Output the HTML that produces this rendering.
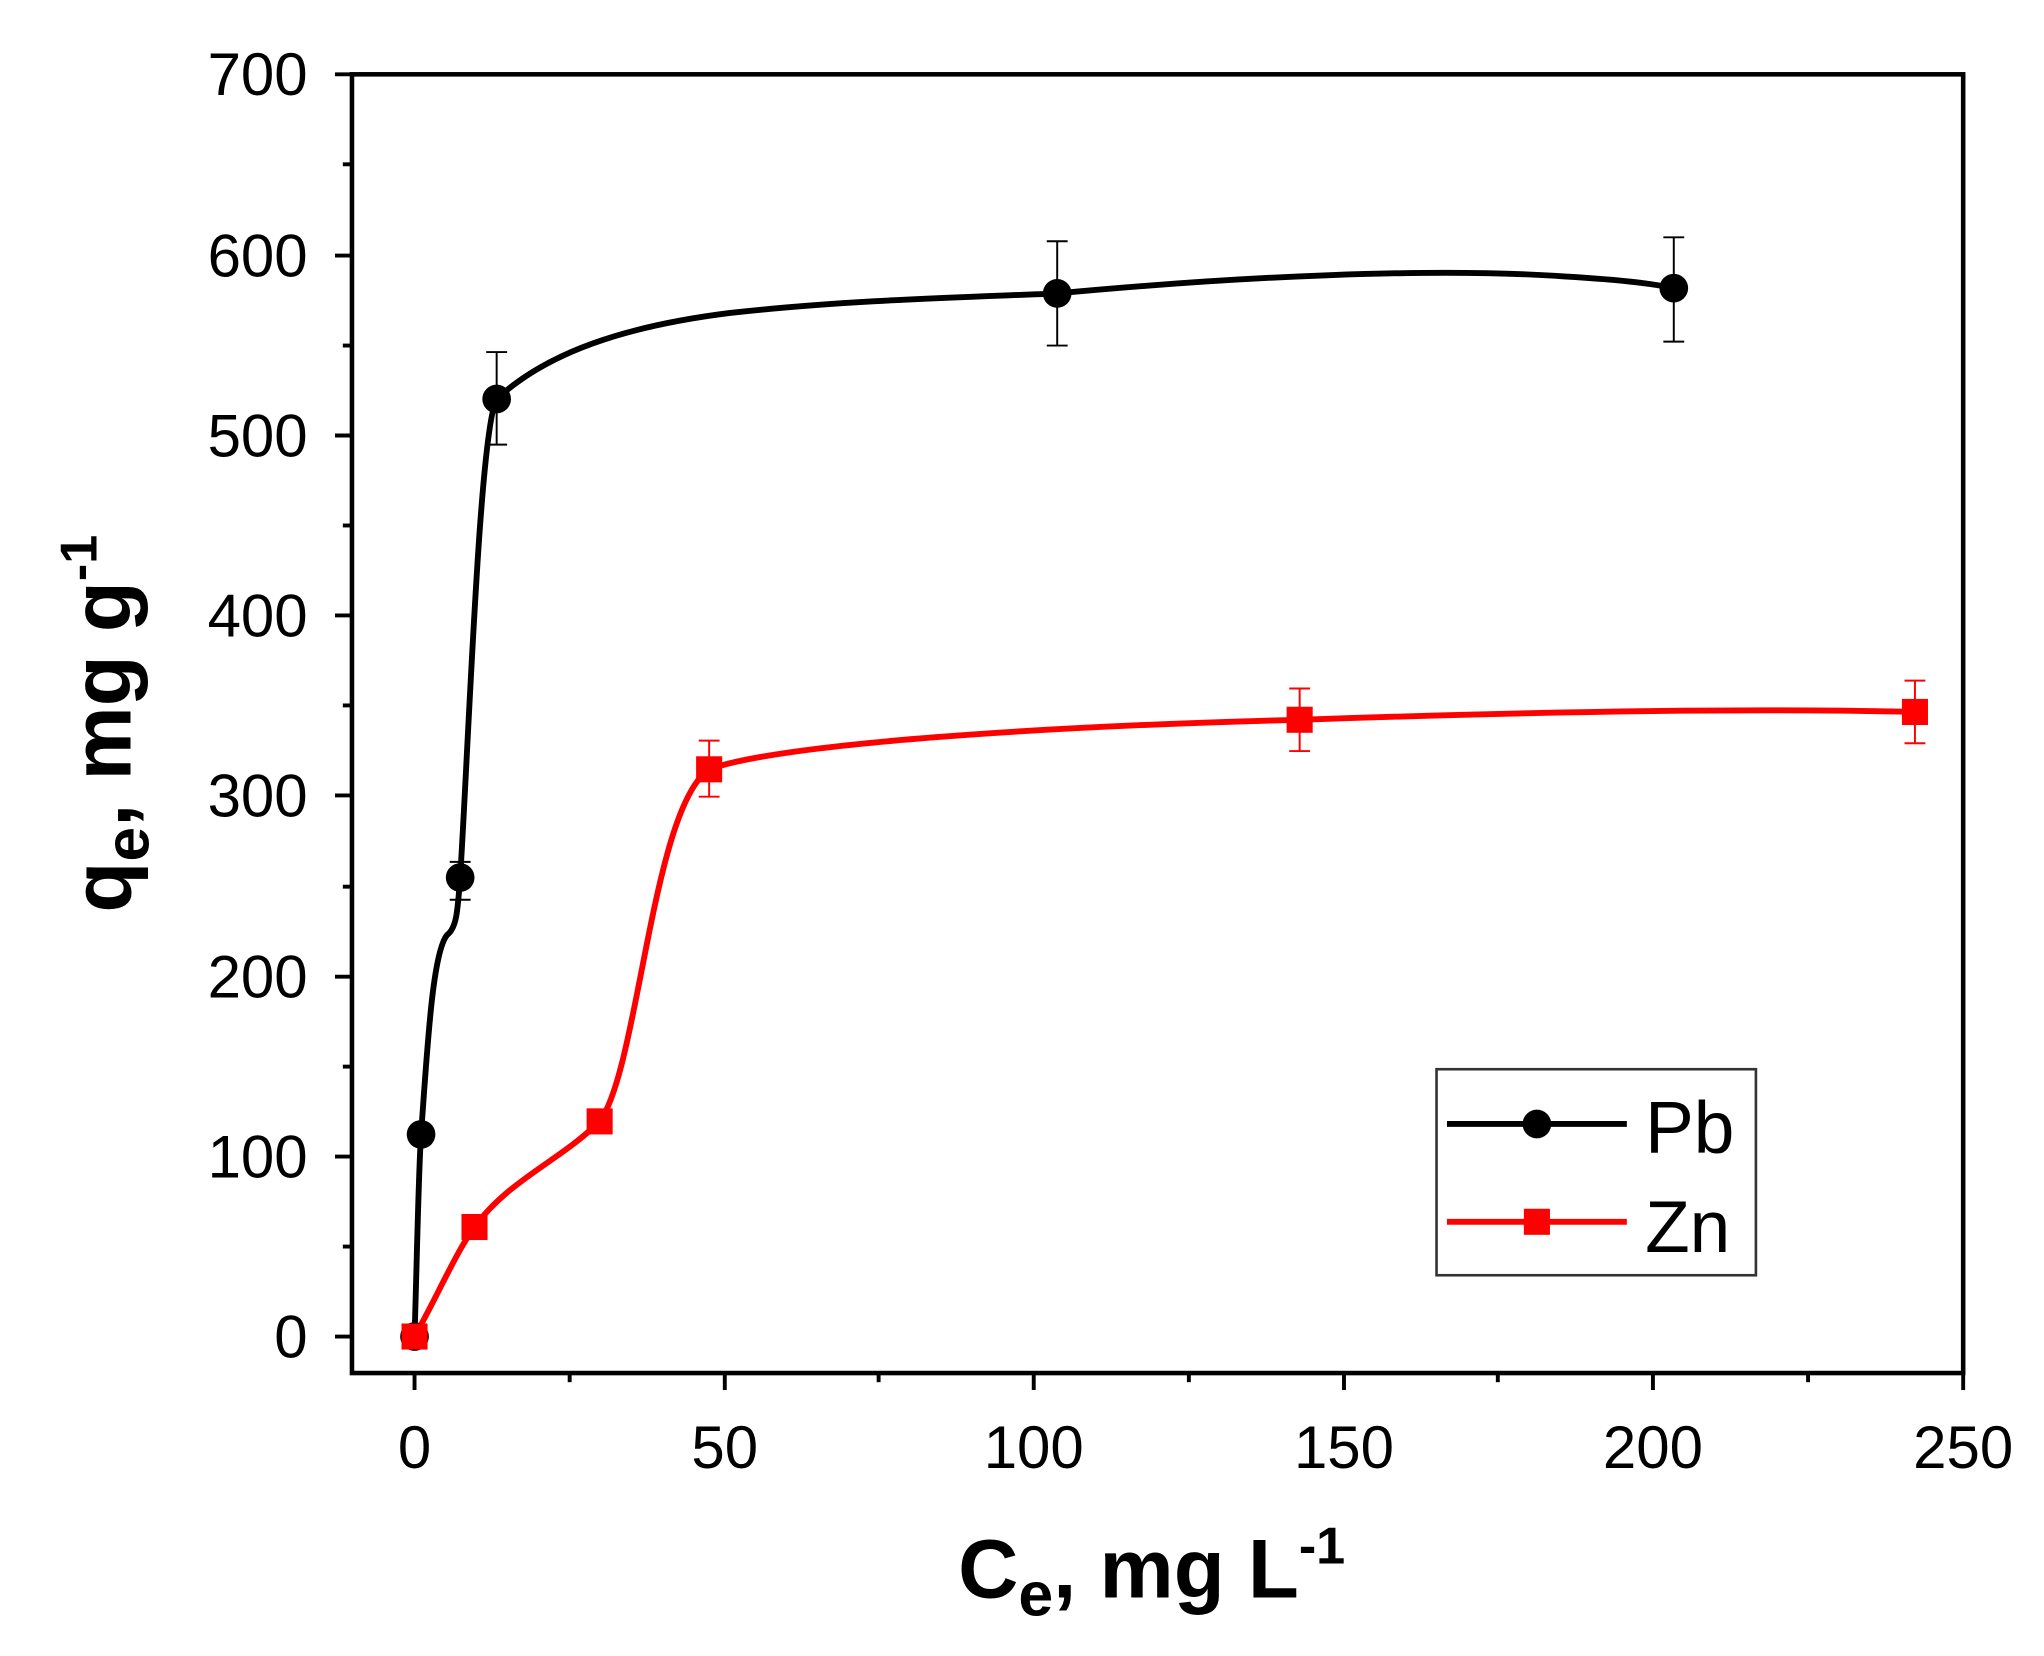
<!DOCTYPE html>
<html><head><meta charset="utf-8"><style>
html,body{margin:0;padding:0;background:#fff;width:2044px;height:1656px;overflow:hidden}
svg{display:block}
text{font-family:"Liberation Sans",Arial,sans-serif}
</style></head><body>
<svg width="2044" height="1656" viewBox="0 0 1568 1270" preserveAspectRatio="none" xmlns="http://www.w3.org/2000/svg">
<rect width="1568" height="1270" fill="#fff"/>
<rect x="270" y="57" width="1236" height="996" fill="none" stroke="#000" stroke-width="3.5"/>
<g stroke="#000" stroke-width="3">
<line x1="257" y1="1025" x2="270" y2="1025"/><line x1="257" y1="887" x2="270" y2="887"/><line x1="257" y1="749" x2="270" y2="749"/><line x1="257" y1="610" x2="270" y2="610"/><line x1="257" y1="472" x2="270" y2="472"/><line x1="257" y1="334" x2="270" y2="334"/><line x1="257" y1="196" x2="270" y2="196"/><line x1="257" y1="57" x2="270" y2="57"/>
<line x1="263" y1="956" x2="270" y2="956"/><line x1="263" y1="818" x2="270" y2="818"/><line x1="263" y1="680" x2="270" y2="680"/><line x1="263" y1="541" x2="270" y2="541"/><line x1="263" y1="403" x2="270" y2="403"/><line x1="263" y1="265" x2="270" y2="265"/><line x1="263" y1="126" x2="270" y2="126"/>
<line x1="318" y1="1053" x2="318" y2="1066"/><line x1="556" y1="1053" x2="556" y2="1066"/><line x1="793" y1="1053" x2="793" y2="1066"/><line x1="1031" y1="1053" x2="1031" y2="1066"/><line x1="1268" y1="1053" x2="1268" y2="1066"/><line x1="1506" y1="1053" x2="1506" y2="1066"/>
<line x1="437" y1="1053" x2="437" y2="1060"/><line x1="674" y1="1053" x2="674" y2="1060"/><line x1="912" y1="1053" x2="912" y2="1060"/><line x1="1149" y1="1053" x2="1149" y2="1060"/><line x1="1387" y1="1053" x2="1387" y2="1060"/>
</g>
<g font-size="46" text-anchor="end">
<text x="236" y="1041">0</text><text x="236" y="903">100</text><text x="236" y="765">200</text><text x="236" y="626">300</text><text x="236" y="488">400</text><text x="236" y="350">500</text><text x="236" y="212">600</text><text x="236" y="73">700</text>
</g>
<g font-size="46" text-anchor="middle">
<text x="318" y="1126">0</text><text x="556" y="1126">50</text><text x="793" y="1126">100</text><text x="1031" y="1126">150</text><text x="1268" y="1126">200</text><text x="1506" y="1126">250</text>
</g>
<text x="735" y="1225" font-size="64" font-weight="bold">C<tspan font-size="48" dy="14">e</tspan><tspan font-size="64" dy="-14">, mg L</tspan><tspan font-size="40" dy="-26">-1</tspan></text>
<text transform="translate(100,555) rotate(-90)" text-anchor="middle" font-size="64" font-weight="bold">q<tspan font-size="48" dy="14">e</tspan><tspan font-size="64" dy="-14">, mg g</tspan><tspan font-size="40" dy="-26">-1</tspan></text>
<g stroke="#000" stroke-width="1.5">
<line x1="353" y1="661" x2="353" y2="690"/><line x1="345" y1="661" x2="361" y2="661"/><line x1="345" y1="690" x2="361" y2="690"/>
<line x1="381" y1="270" x2="381" y2="341"/><line x1="373" y1="270" x2="389" y2="270"/><line x1="373" y1="341" x2="389" y2="341"/>
<line x1="811" y1="185" x2="811" y2="265"/><line x1="803" y1="185" x2="819" y2="185"/><line x1="803" y1="265" x2="819" y2="265"/>
<line x1="1284" y1="182" x2="1284" y2="262"/><line x1="1276" y1="182" x2="1292" y2="182"/><line x1="1276" y1="262" x2="1292" y2="262"/>
</g>
<g stroke="#f00" stroke-width="1.5">
<line x1="544" y1="568" x2="544" y2="611"/><line x1="536" y1="568" x2="552" y2="568"/><line x1="536" y1="611" x2="552" y2="611"/>
<line x1="997" y1="528" x2="997" y2="576"/><line x1="989" y1="528" x2="1005" y2="528"/><line x1="989" y1="576" x2="1005" y2="576"/>
<line x1="1469" y1="522" x2="1469" y2="570"/><line x1="1461" y1="522" x2="1477" y2="522"/><line x1="1461" y1="570" x2="1477" y2="570"/>
</g>
<path d="M318,1025 C320,960 321,900 323,870 C328,800 332,730 343,717 C350,712 351,700 353,673 C360,560 368,330 381,306 C420,270 480,250 560,240 C650,230 740,228 811,225 C950,212 1100,205 1200,212 C1250,215 1270,218 1284,221" fill="none" stroke="#000" stroke-width="4.5"/>
<path d="M318,1025 C335,995 350,960 364,941 C390,905 430,890 460,860 C490,820 500,620 544,590 C600,570 800,557 997,552 C1200,545 1350,543 1469,546" fill="none" stroke="#f00" stroke-width="4.5"/>
<g fill="#000">
<circle cx="318" cy="1025" r="11"/><circle cx="323" cy="870" r="11"/><circle cx="353" cy="673" r="11"/><circle cx="381" cy="306" r="11"/><circle cx="811" cy="225" r="11"/><circle cx="1284" cy="221" r="11"/>
</g>
<g fill="#f00">
<rect x="308" y="1015" width="20" height="20"/><rect x="354" y="931" width="20" height="20"/><rect x="450" y="850" width="20" height="20"/><rect x="534" y="580" width="20" height="20"/><rect x="987" y="542" width="20" height="20"/><rect x="1459" y="536" width="20" height="20"/>
</g>
<rect x="1102" y="820" width="245" height="158" fill="#fff" stroke="#333" stroke-width="2"/>
<line x1="1110" y1="862" x2="1248" y2="862" stroke="#000" stroke-width="4.5"/>
<circle cx="1179" cy="862" r="11" fill="#000"/>
<line x1="1110" y1="937" x2="1248" y2="937" stroke="#f00" stroke-width="4.5"/>
<rect x="1169" y="927" width="20" height="20" fill="#f00"/>
<text x="1262" y="884" font-size="56">Pb</text>
<text x="1262" y="960" font-size="56">Zn</text>
</svg>
</body></html>
